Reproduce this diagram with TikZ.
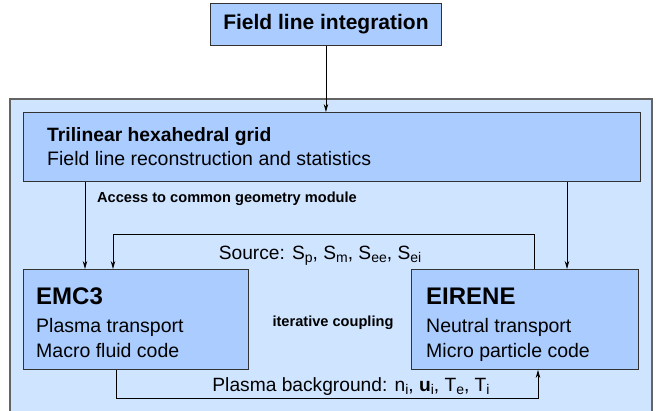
\documentclass[tikz,border=0pt]{standalone}
\usepackage{fontspec}
\setmainfont{Liberation Sans}
\usetikzlibrary{arrows.meta}
\definecolor{boxblue}{RGB}{170,204,255}
\definecolor{framebg}{RGB}{207,228,255}
\definecolor{framedraw}{RGB}{100,100,100}
\definecolor{boxdraw}{RGB}{50,50,50}
\newcommand{\lowsub}[1]{\raisebox{-0.38ex}{\fontsize{14}{16}\selectfont #1}}
\tikzset{
  blockbox/.style={draw=boxdraw, fill=boxblue, line width=0.9pt, inner sep=0pt, anchor=north west},
  txt/.style={inner sep=0pt, anchor=base west},
  ctxt/.style={inner sep=0pt, anchor=base},
  arr/.style={line width=0.8pt, -{Stealth[length=8pt,width=4.5pt]}},
  regfont/.style={font=\fontsize{19.5}{23}\selectfont},
  smallbold/.style={font=\fontsize{14.6}{17}\selectfont\bfseries}
}
\begin{document}
\begin{tikzpicture}[x=1pt,y=-1pt]
\useasboundingbox (0,0) rectangle (660,411);
% outer frame
\draw[draw=framedraw, fill=framebg, line width=1.2pt] (10,99) rectangle (652,425);
% boxes
\node[blockbox, minimum width=231pt, minimum height=42pt] (title) at (210,3) {};
\node[font=\fontsize{21}{25}\selectfont\bfseries, inner sep=0pt] (titletext) at (title.center) {Field line integration};
\node[blockbox, minimum width=617pt, minimum height=69pt] (grid) at (23,112) {};
\node[blockbox, minimum width=225pt, minimum height=100pt] (emc) at (23,269) {};
\node[blockbox, minimum width=227pt, minimum height=100pt] (eir) at (411,269) {};
% texts
\node[txt, font=\fontsize{19.3}{23}\selectfont\bfseries] (gt1) at (47,142) {Trilinear hexahedral grid};
\node[txt, regfont] (gt2) at (47,166) {Field line reconstruction and statistics};
\node[txt, smallbold] (acc) at (97,203) {Access to common geometry module};
\node[txt, font=\fontsize{24}{28}\selectfont\bfseries] (e1) at (36,304) {EMC3};
\node[txt, regfont] (e2) at (36,332) {Plasma transport};
\node[txt, regfont] (e3) at (36,357) {Macro fluid code};
\node[txt, font=\fontsize{24}{28}\selectfont\bfseries] (r1) at (426,304) {EIRENE};
\node[txt, regfont] (r2) at (426,332) {Neutral transport};
\node[txt, regfont] (r3) at (426,357) {Micro particle code};
\node[ctxt, smallbold] (iter) at (333,326) {iterative coupling};
\node[ctxt, font=\fontsize{19.2}{23}\selectfont] (src) at (320,259) {Source: S\lowsub{p}, S\lowsub{m}, S\lowsub{ee}, S\lowsub{ei}};
\node[ctxt, font=\fontsize{19.2}{23}\selectfont] (bg) at (351,391) {Plasma background: n\lowsub{i}, \textbf{u}\lowsub{i}, T\lowsub{e}, T\lowsub{i}};
% coordinates
\coordinate (srcup) at (534,234);
\coordinate (srcdn) at (113,234);
\coordinate (bgdn) at (116,398);
\coordinate (bgup) at (538,398);
% connectors
\draw[arr] (title.south) -- (title.south |- grid.north);
\draw[arr] (grid.south -| 85,0) -- (emc.north -| 85,0);
\draw[arr] (grid.south -| 567,0) -- (eir.north -| 567,0);
\draw[arr] (eir.north -| srcup) -- (srcup) -- (srcdn) -- (emc.north -| srcdn);
\draw[arr] (emc.south -| bgdn) -- (bgdn) -- (bgup) -- (eir.south -| bgup);
\end{tikzpicture}
\end{document}
